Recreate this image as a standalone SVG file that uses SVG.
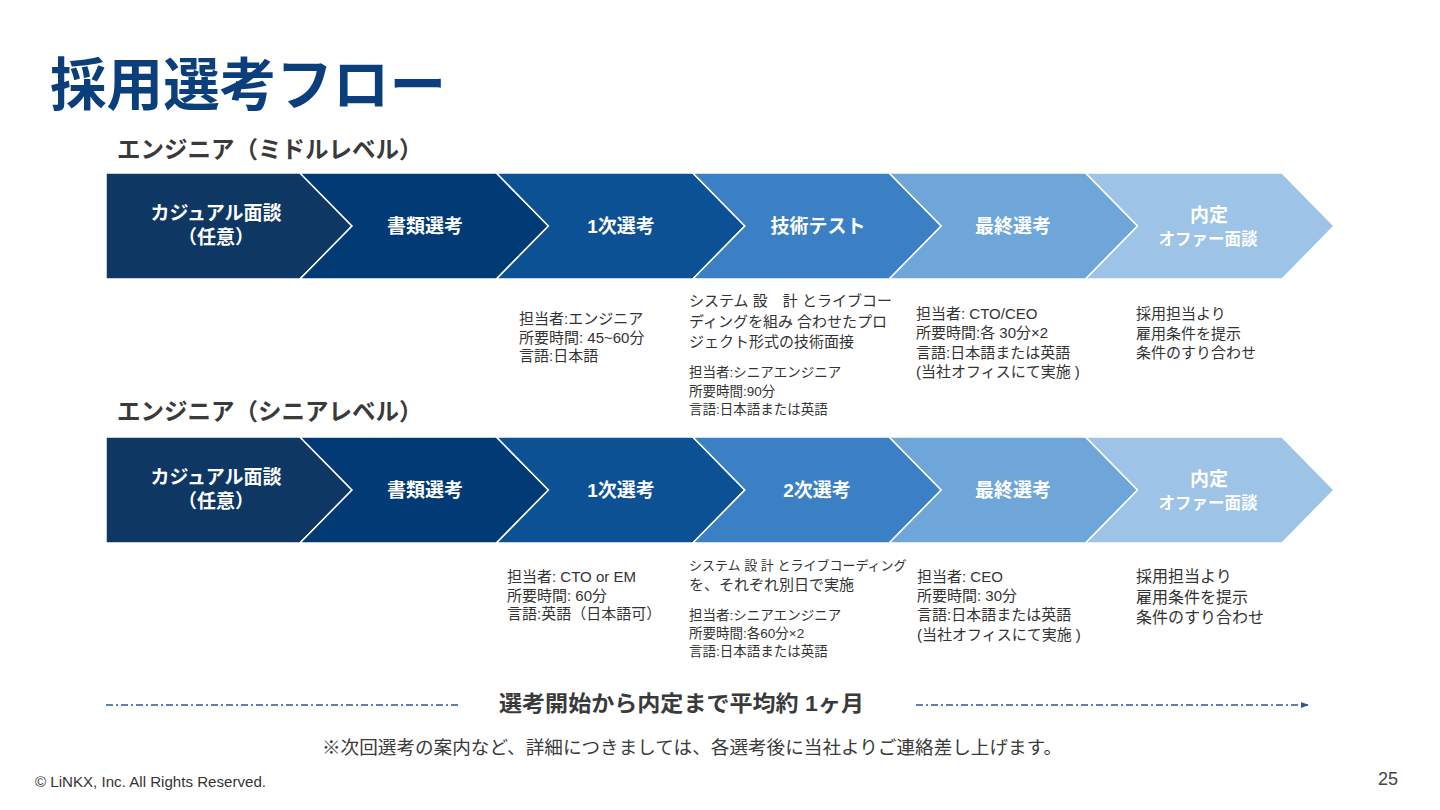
<svg xmlns="http://www.w3.org/2000/svg" width="1440" height="810" viewBox="0 0 1440 810">
<defs>
<style>
text{font-family:"Liberation Sans","Noto Sans CJK JP",sans-serif;}
.title{font-size:57px;font-weight:bold;fill:#0b3f7c;}
.sub{font-size:23.5px;font-weight:bold;fill:#3a3a3a;}
.chev{stroke:#fff;stroke-width:1.5;}
.lbl{font-size:19px;font-weight:bold;fill:#fff;text-anchor:middle;}
.lbls{font-size:16.5px;font-weight:bold;fill:#fff;text-anchor:middle;}
.d{font-size:15px;fill:#333;}
.ds{font-size:13.5px;fill:#333;}
.dl{font-size:16px;fill:#333;}
.c1{fill:#0e3763;}.c2{fill:#023a76;}.c3{fill:#0d5195;}.c4{fill:#3b80c4;}.c5{fill:#6ea6da;}.c6{fill:#9dc3e6;}
.dash{stroke:#2a5a90;stroke-width:1.3;fill:none;stroke-dasharray:7 3 2 3;}
</style>
<marker id="arr" viewBox="0 0 10 10" refX="9" refY="5" markerWidth="8" markerHeight="8" markerUnits="userSpaceOnUse" orient="auto">
<path d="M0,1 L10,5 L0,9 Z" fill="#2a5a90"/>
</marker>
</defs>
<rect width="1440" height="810" fill="#fff"/>
<text class="title" x="50" y="105" textLength="396" lengthAdjust="spacingAndGlyphs">採用選考フロー</text>

<g id="mid-row">
<text class="sub" x="117" y="158">エンジニア（ミドルレベル）</text>
<g id="m1"><path class="chev c1" d="M106,173 H300 L352,226 L300,279 H106 Z"/><text class="lbl" x="216" y="220">カジュアル面談</text><text class="lbl" x="216" y="244">（任意）</text></g>
<g id="m2"><path class="chev c2" d="M300,173 H496.4 L548.4,226 L496.4,279 H300 L352,226 Z"/><text class="lbl" x="425" y="233">書類選考</text></g>
<g id="m3"><path class="chev c3" d="M496.4,173 H692.8 L744.8,226 L692.8,279 H496.4 L548.4,226 Z"/><text class="lbl" x="621" y="233">1次選考</text></g>
<g id="m4"><path class="chev c4" d="M692.8,173 H889.2 L941.2,226 L889.2,279 H692.8 L744.8,226 Z"/><text class="lbl" x="818" y="233">技術テスト</text></g>
<g id="m5"><path class="chev c5" d="M889.2,173 H1085.6 L1137.6,226 L1085.6,279 H889.2 L941.2,226 Z"/><text class="lbl" x="1013" y="233">最終選考</text></g>
<g id="m6"><path class="chev c6" d="M1085.6,173 H1282 L1334,226 L1282,279 H1085.6 L1137.6,226 Z"/><text class="lbl" x="1209" y="222">内定</text><text class="lbls" x="1208" y="245">オファー面談</text></g>
</g>

<g id="mid-details">
<text class="d" x="519" y="324">担当者:エンジニア</text>
<text class="d" x="519" y="343">所要時間: 45~60分</text>
<text class="d" x="519" y="361">言語:日本語</text>
<text class="d" x="689" y="306">システム 設　計 とライブコー</text>
<text class="d" x="689" y="327">ディングを組み 合わせたプロ</text>
<text class="d" x="689" y="347">ジェクト形式の技術面接</text>
<text class="ds" x="689" y="377">担当者:シニアエンジニア</text>
<text class="ds" x="689" y="396">所要時間:90分</text>
<text class="ds" x="689" y="414">言語:日本語または英語</text>
<text class="d" x="916" y="319">担当者: CTO/CEO</text>
<text class="d" x="916" y="338">所要時間:各 30分×2</text>
<text class="d" x="916" y="358">言語:日本語または英語</text>
<text class="d" x="916" y="377">(当社オフィスにて実施 )</text>
<text class="d" x="1136" y="319">採用担当より</text>
<text class="d" x="1136" y="339">雇用条件を提示</text>
<text class="d" x="1136" y="358">条件のすり合わせ</text>
</g>

<g id="senior-row">
<text class="sub" x="117" y="420">エンジニア（シニアレベル）</text>
<g id="s1"><path class="chev c1" d="M106,437 H300 L352,490 L300,543 H106 Z"/><text class="lbl" x="216" y="484">カジュアル面談</text><text class="lbl" x="216" y="508">（任意）</text></g>
<g id="s2"><path class="chev c2" d="M300,437 H496.4 L548.4,490 L496.4,543 H300 L352,490 Z"/><text class="lbl" x="425" y="497">書類選考</text></g>
<g id="s3"><path class="chev c3" d="M496.4,437 H692.8 L744.8,490 L692.8,543 H496.4 L548.4,490 Z"/><text class="lbl" x="621" y="497">1次選考</text></g>
<g id="s4"><path class="chev c4" d="M692.8,437 H889.2 L941.2,490 L889.2,543 H692.8 L744.8,490 Z"/><text class="lbl" x="817" y="497">2次選考</text></g>
<g id="s5"><path class="chev c5" d="M889.2,437 H1085.6 L1137.6,490 L1085.6,543 H889.2 L941.2,490 Z"/><text class="lbl" x="1013" y="497">最終選考</text></g>
<g id="s6"><path class="chev c6" d="M1085.6,437 H1282 L1334,490 L1282,543 H1085.6 L1137.6,490 Z"/><text class="lbl" x="1209" y="486">内定</text><text class="lbls" x="1208" y="509">オファー面談</text></g>
</g>

<g id="senior-details">
<text class="d" x="507" y="582">担当者: CTO or EM</text>
<text class="d" x="507" y="601">所要時間: 60分</text>
<text class="d" x="507" y="619">言語:英語（日本語可）</text>
<text x="689" y="570" font-size="13" fill="#333">システム 設 計 とライブコーディング</text>
<text class="d" x="689" y="590">を、それぞれ別日で実施</text>
<text class="ds" x="689" y="620">担当者:シニアエンジニア</text>
<text class="ds" x="689" y="638">所要時間:各60分×2</text>
<text class="ds" x="689" y="656">言語:日本語または英語</text>
<text class="d" x="917" y="582">担当者: CEO</text>
<text class="d" x="917" y="601">所要時間: 30分</text>
<text class="d" x="917" y="620">言語:日本語または英語</text>
<text class="d" x="917" y="640">(当社オフィスにて実施 )</text>
<text class="dl" x="1136" y="582">採用担当より</text>
<text class="dl" x="1136" y="603">雇用条件を提示</text>
<text class="dl" x="1136" y="623">条件のすり合わせ</text>
</g>

<g id="connectors">
<line class="dash" x1="106" y1="705" x2="458" y2="705"/>
<line class="dash" x1="916" y1="705" x2="1308" y2="705" marker-end="url(#arr)"/>
</g>
<text x="499" y="711" font-size="22" font-weight="bold" fill="#3a3a3a" textLength="365" lengthAdjust="spacingAndGlyphs">選考開始から内定まで平均約 1ヶ月</text>
<text x="322" y="754" font-size="18" fill="#3a3a3a" textLength="740" lengthAdjust="spacingAndGlyphs">※次回選考の案内など、詳細につきましては、各選考後に当社よりご連絡差し上げます。</text>
<text x="35" y="787" font-size="14" fill="#333" textLength="231" lengthAdjust="spacingAndGlyphs">© LiNKX, Inc. All Rights Reserved.</text>
<text x="1398" y="785" font-size="18" fill="#444" text-anchor="end">25</text>
</svg>
